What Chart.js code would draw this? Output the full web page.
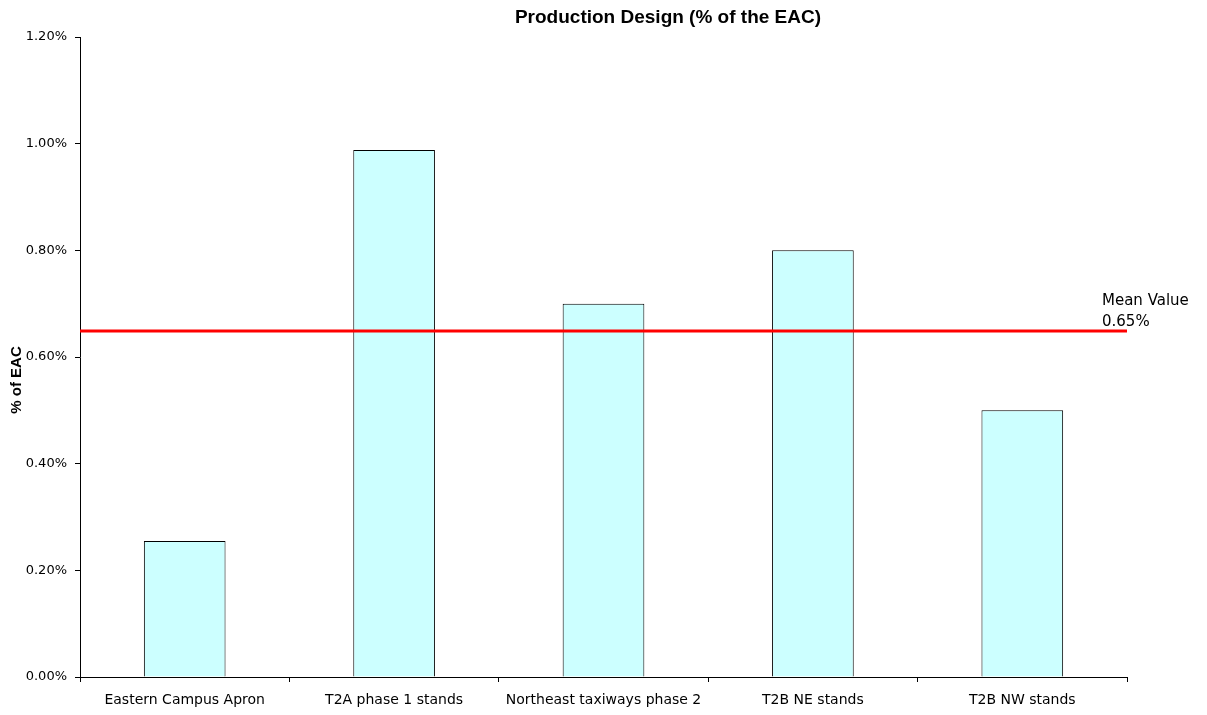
<!DOCTYPE html>
<html>
<head>
<meta charset="utf-8">
<script src="https://cdn.jsdelivr.net/npm/chart.js@4/dist/chart.umd.min.js"></script>
<style>
  html, body { margin: 0; padding: 0; background: #ffffff; }
  #wrap { width: 1207px; height: 715px; position: relative; }
</style>
</head>
<body>
<div id="wrap"><canvas id="c" width="1207" height="715"></canvas></div>
<script>
// Project names along the x axis
const categories = [
  'Eastern Campus Apron',
  'T2A phase 1 stands',
  'Northeast taxiways phase 2',
  'T2B NE stands',
  'T2B NW stands'
];
// Production design cost as % of the EAC
const designPct = [0.255, 0.988, 0.70, 0.80, 0.50];
// Y axis range and step (percent)
const yMin = 0;
const yMax = 1.2;
const yStep = 0.2;

const meanValue = designPct.reduce((a, b) => a + b, 0) / designPct.length;

const FONT = '"Liberation Sans", Arial, sans-serif';
const WIDE = '"DejaVu Sans", sans-serif';

// Chart title, axis title and the mean reference line with its label
const decorations = {
  id: 'decorations',
  afterDatasetsDraw(chart) {
    const { ctx, chartArea } = chart;
    const y = chart.scales.y.getPixelForValue(meanValue);
    ctx.save();
    ctx.strokeStyle = '#ff0000';
    ctx.lineWidth = 3;
    ctx.beginPath();
    ctx.moveTo(chartArea.left, y);
    ctx.lineTo(chartArea.right, y);
    ctx.stroke();

    ctx.fillStyle = '#000000';
    ctx.font = '15px ' + WIDE;
    ctx.textAlign = 'left';
    ctx.textBaseline = 'middle';
    ctx.fillText('Mean Value', 1102, y - 30);
    ctx.fillText(meanValue.toFixed(2) + '%', 1102, y - 9);

    ctx.font = 'bold 19px ' + FONT;
    ctx.textAlign = 'center';
    ctx.fillText('Production Design (% of the EAC)', 668, 18);

    ctx.translate(17, 380);
    ctx.rotate(-Math.PI / 2);
    ctx.font = 'bold 15px ' + FONT;
    ctx.fillText('% of EAC', 0, 0);
    ctx.restore();
  }
};

new Chart(document.getElementById('c'), {
  type: 'bar',
  data: {
    labels: categories,
    datasets: [{
      data: designPct,
      backgroundColor: '#ccffff',
      borderColor: '#000000',
      borderWidth: 1,
      barPercentage: 0.39,
      categoryPercentage: 1.0
    }]
  },
  options: {
    responsive: false,
    animation: false,
    layout: { padding: { top: 37, right: 80, left: 0, bottom: 0 } },
    plugins: {
      legend: { display: false },
      title: { display: false },
      tooltip: { enabled: false }
    },
    scales: {
      x: {
        grid: { display: true, drawOnChartArea: false, offset: true, tickLength: 5, color: '#000000' },
        border: { display: true, color: '#000000', width: 1 },
        ticks: { color: '#000000', font: { family: WIDE, size: 14 }, padding: 10, maxRotation: 0, autoSkip: false },
        afterFit(scale) { scale.height = 38; }
      },
      y: {
        min: yMin,
        max: yMax,
        grid: { display: true, drawOnChartArea: false, tickLength: 5, color: '#000000' },
        border: { display: true, color: '#000000', width: 1 },
        ticks: {
          stepSize: yStep,
          color: '#000000',
          font: { family: WIDE, size: 13 },
          padding: 8,
          callback: v => v.toFixed(2) + '%'
        },
        afterFit(scale) { scale.width = 80; }
      }
    }
  },
  plugins: [decorations]
});
</script>
</body>
</html>
